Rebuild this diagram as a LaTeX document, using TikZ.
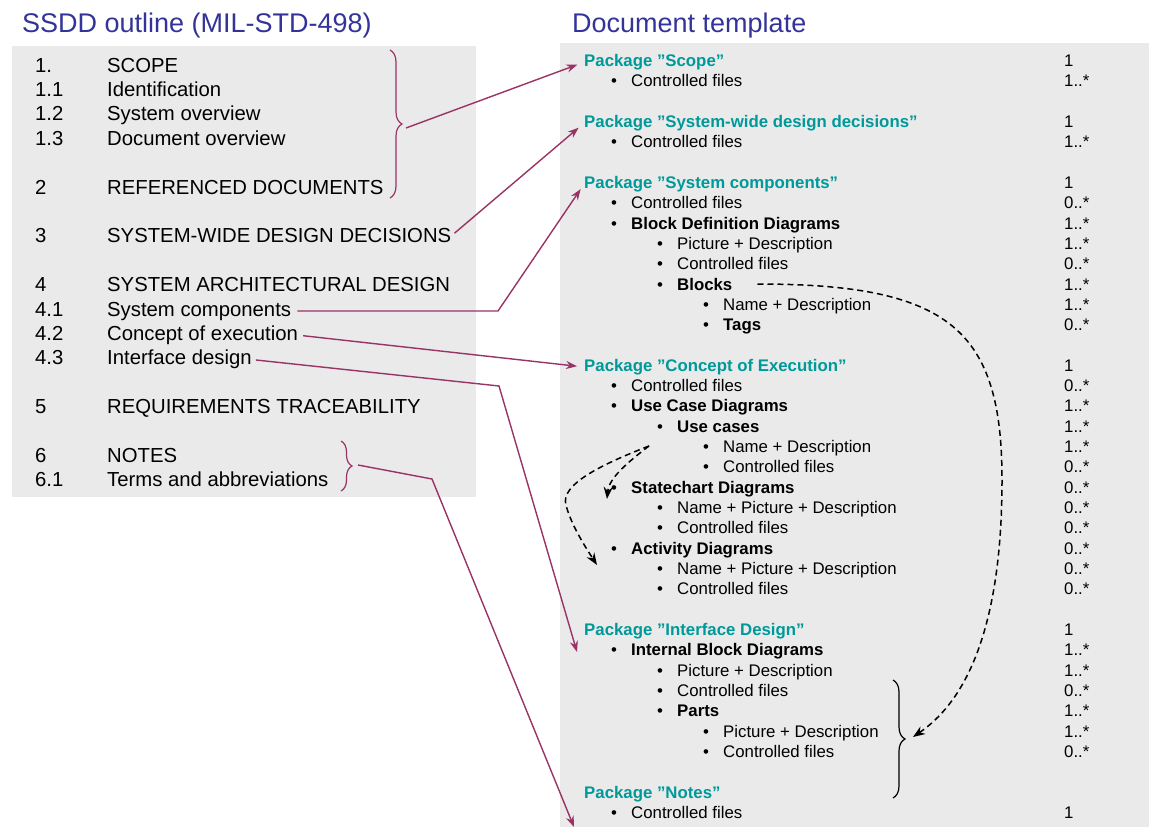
\documentclass[tikz,border=0pt]{standalone}
\usepackage{fontspec}
\setmainfont{Liberation Sans}
\usetikzlibrary{arrows.meta,decorations.pathreplacing}

\definecolor{titleblue}{RGB}{51,51,153}
\definecolor{pkgteal}{RGB}{0,153,153}
\definecolor{linkred}{RGB}{153,51,102}
\definecolor{panelgray}{RGB}{234,234,234}

\begin{document}
\begin{tikzpicture}
[
    x = 1pt, y = -1pt,
    every node/.style = {inner sep = 0pt, anchor = base west},
    heading/.style = {font = \fontsize{27}{32}\selectfont, text = titleblue},
    sectext/.style = {font = \fontsize{20.3}{24}\selectfont},
    entry/.style = {font = \fontsize{16.8}{20}\selectfont},
    pkg/.style = {font = \fontsize{16.8}{20}\selectfont\bfseries, text = pkgteal},
    link/.style = {draw = linkred, line width = 1.4pt, -{Stealth[length = 11pt, width = 8pt]}},
    hint/.style = {draw = black, line width = 1.5pt, dash pattern = on 6pt off 4pt,
                   -{Stealth[length = 12pt, width = 9pt]}},
    curly/.style = {decorate, decoration = {brace, amplitude = #1}}
]
\useasboundingbox (0,0) rectangle (1149,827);

\fill[panelgray] (12,46) rectangle (476,497);
\fill[panelgray] (560,43) rectangle (1149,827);

\node[heading] (lefttitle) at (22,32) {SSDD outline (MIL-STD-498)};
\node[heading] (righttitle) at (572,32) {Document template};

% MIL-STD-498 sections
\foreach \row/\num/\title in {0/1./SCOPE, 1/1.1/Identification, 2/1.2/System overview,
    3/1.3/Document overview, 5/2/REFERENCED DOCUMENTS, 7/3/SYSTEM-WIDE DESIGN DECISIONS,
    9/4/SYSTEM ARCHITECTURAL DESIGN, 10/4.1/System components, 11/4.2/Concept of execution,
    12/4.3/Interface design, 14/5/REQUIREMENTS TRACEABILITY, 16/6/NOTES,
    17/6.1/Terms and abbreviations}
{
    \node[sectext] (num\row) at (35, {72 + 24.4*\row}) {\num};
    \node[sectext] (sec\row) at (107, {72 + 24.4*\row}) {\title};
}

% template packages
\foreach \row/\name in {0/Scope, 3/System-wide design decisions, 6/System components,
    15/Concept of Execution, 28/Interface Design, 36/Notes}
    \node[pkg] (pkg\row) at (584, {66.5 + 20.32*\row}) {Package ”\name”};
\foreach \row in {0, 3, 6, 15, 28}
    \node[entry] (mult\row) at (1064, {66.5 + 20.32*\row}) {1};

\foreach \row/\lvl/\txt/\mult in {
    1/1/Controlled files/1..*,
    4/1/Controlled files/1..*,
    7/1/Controlled files/0..*,
    8/1/{\bfseries Block Definition Diagrams}/1..*,
    9/2/Picture + Description/1..*,
    10/2/Controlled files/0..*,
    11/2/{\bfseries Blocks}/1..*,
    12/3/Name + Description/1..*,
    13/3/{\bfseries Tags}/0..*,
    16/1/Controlled files/0..*,
    17/1/{\bfseries Use Case Diagrams}/1..*,
    18/2/{\bfseries Use cases}/1..*,
    19/3/Name + Description/1..*,
    20/3/Controlled files/0..*,
    21/1/{\bfseries Statechart Diagrams}/0..*,
    22/2/Name + Picture + Description/0..*,
    23/2/Controlled files/0..*,
    24/1/{\bfseries Activity Diagrams}/0..*,
    25/2/Name + Picture + Description/0..*,
    26/2/Controlled files/0..*,
    29/1/{\bfseries Internal Block Diagrams}/1..*,
    30/2/Picture + Description/1..*,
    31/2/Controlled files/0..*,
    32/2/{\bfseries Parts}/1..*,
    33/3/Picture + Description/1..*,
    34/3/Controlled files/0..*,
    37/1/Controlled files/1}
{
    \node[entry] (dot\row) at ({565 + 46*\lvl}, {66.5 + 20.32*\row}) {\textbullet};
    \node[entry] (item\row) at ({585 + 46*\lvl}, {66.5 + 20.32*\row}) {\txt};
    \node[entry] (mult\row) at (1064, {66.5 + 20.32*\row}) {\mult};
}

% braces
\draw[curly = 12pt, linkred, line width = 1.2pt] (390,50) -- (390,198);
\draw[curly = 11pt, linkred, line width = 1.2pt] (341,441) -- (341,491);
\draw[curly = 12pt, black, line width = 1.2pt] (893,680) -- (893,798);

\coordinate (scopebrace) at (406,128);
\coordinate (notesbrace) at (358,465);
\coordinate (partsbrace) at (913,737);
\coordinate (bendsys) at (498,310);
\coordinate (bendif) at (499,386);
\coordinate (bendnotes) at (432,479);
\coordinate (ifend) at (577,652);
\coordinate (notesend) at (574,827);
\coordinate (ucfork) at (649,446);
\coordinate (statetip) at (607,499);
\coordinate (activitytip) at (597,565);

% section -> package links
\draw[link, shorten >= 7pt] (scopebrace) -- (pkg0.west);
\draw[link, shorten <= 4pt, shorten >= 7pt] (sec7.east) -- (pkg3.west);
\draw[link, shorten <= 6pt, shorten >= 6pt] (sec10.east) -- (bendsys |- sec10.east) -- (pkg6.west);
\draw[link, shorten <= 5pt, shorten >= 7pt] (sec11.east) -- (pkg15.west);
\draw[link, shorten <= 4pt] (sec12.east) -- (bendif) -- (ifend);
\draw[link] (notesbrace) -- (bendnotes) -- (notesend);

% reuse hints
\draw[hint, shorten <= 25pt] (item11.east) .. controls (950,284) and (1002,330) .. (1002,480)
    .. controls (1002,640) and (960,705) .. (partsbrace);
\draw[hint] (ucfork) .. controls (628,462) and (609,478) .. (statetip);
\draw[hint] (ucfork) .. controls (600,465) and (560,485) .. (566,505)
    .. controls (571,525) and (586,548) .. (activitytip);
\end{tikzpicture}
\end{document}
